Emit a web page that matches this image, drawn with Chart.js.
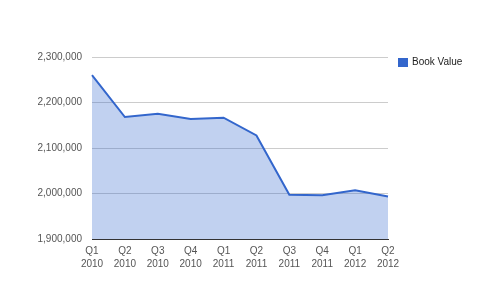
<!DOCTYPE html>
<html>
<head>
<meta charset="utf-8">
<script src="https://cdn.jsdelivr.net/npm/chart.js@4/dist/chart.umd.min.js"></script>
<style>
  html, body { margin: 0; padding: 0; background: #fff; }
  #myChart { display: block; }
</style>
</head>
<body>
<canvas id="myChart" width="480" height="297"></canvas>
<script>
const quarters = ["Q1", "Q2", "Q3", "Q4", "Q1", "Q2", "Q3", "Q4", "Q1", "Q2"];
const years = ["2010", "2010", "2010", "2010", "2011", "2011", "2011", "2011", "2012", "2012"];
const bookValue = [2260000, 2168000, 2175000, 2163500, 2166500, 2127500, 1997500, 1996000, 2007000, 1993500];
const yTicks = [1900000, 2000000, 2100000, 2200000, 2300000];
const seriesName = "Book Value";

const labels = quarters.map((q, i) => [q, years[i]]);
const blue = "#3366CC";
const tickFont = { family: "Arial, 'Liberation Sans', sans-serif", size: 10, lineHeight: 1.25 };

// legend drawn at the right like the original
const sideLegend = {
  id: "sideLegend",
  afterDraw(chart) {
    const c = chart.ctx;
    const area = chart.chartArea;
    c.save();
    c.fillStyle = blue;
    c.fillRect(area.right + 10, area.top + 1, 10, 9);
    c.fillStyle = "#222";
    c.font = "10px Arial, 'Liberation Sans', sans-serif";
    c.textBaseline = "middle";
    c.fillText(seriesName, area.right + 24, area.top + 5.5);
    c.restore();
  },
};

const myChart = new Chart(document.getElementById("myChart"), {
  type: "line",
  data: {
    labels: labels,
    datasets: [
      {
        label: seriesName,
        data: bookValue,
        borderColor: blue,
        borderWidth: 2,
        backgroundColor: "rgba(51, 102, 204, 0.3)",
        fill: "origin",
        tension: 0,
        pointRadius: 0,
      },
    ],
  },
  options: {
    responsive: false,
    animation: false,
    layout: { padding: { top: 57, right: 92, bottom: 0, left: 0 } },
    plugins: {
      legend: { display: false },
      tooltip: { enabled: false },
    },
    scales: {
      x: {
        offset: false,
        grid: { display: false, drawTicks: false },
        border: { display: true, color: "#333", width: 1 },
        ticks: {
          autoSkip: false,
          maxRotation: 0,
          padding: 6,
          color: "#555",
          font: tickFont,
        },
        afterFit: (scale) => { scale.height = 58; },
      },
      y: {
        min: yTicks[0],
        max: yTicks[yTicks.length - 1],
        grid: { color: "#cccccc", drawTicks: false },
        border: { display: false },
        afterBuildTicks: (scale) => { scale.ticks = yTicks.map((v) => ({ value: v })); },
        ticks: {
          padding: 10,
          color: "#555",
          font: tickFont,
          callback: (v) => v.toLocaleString("en-US"),
        },
        afterFit: (scale) => { scale.width = 92; },
      },
    },
  },
  plugins: [sideLegend],
});
</script>
</body>
</html>
